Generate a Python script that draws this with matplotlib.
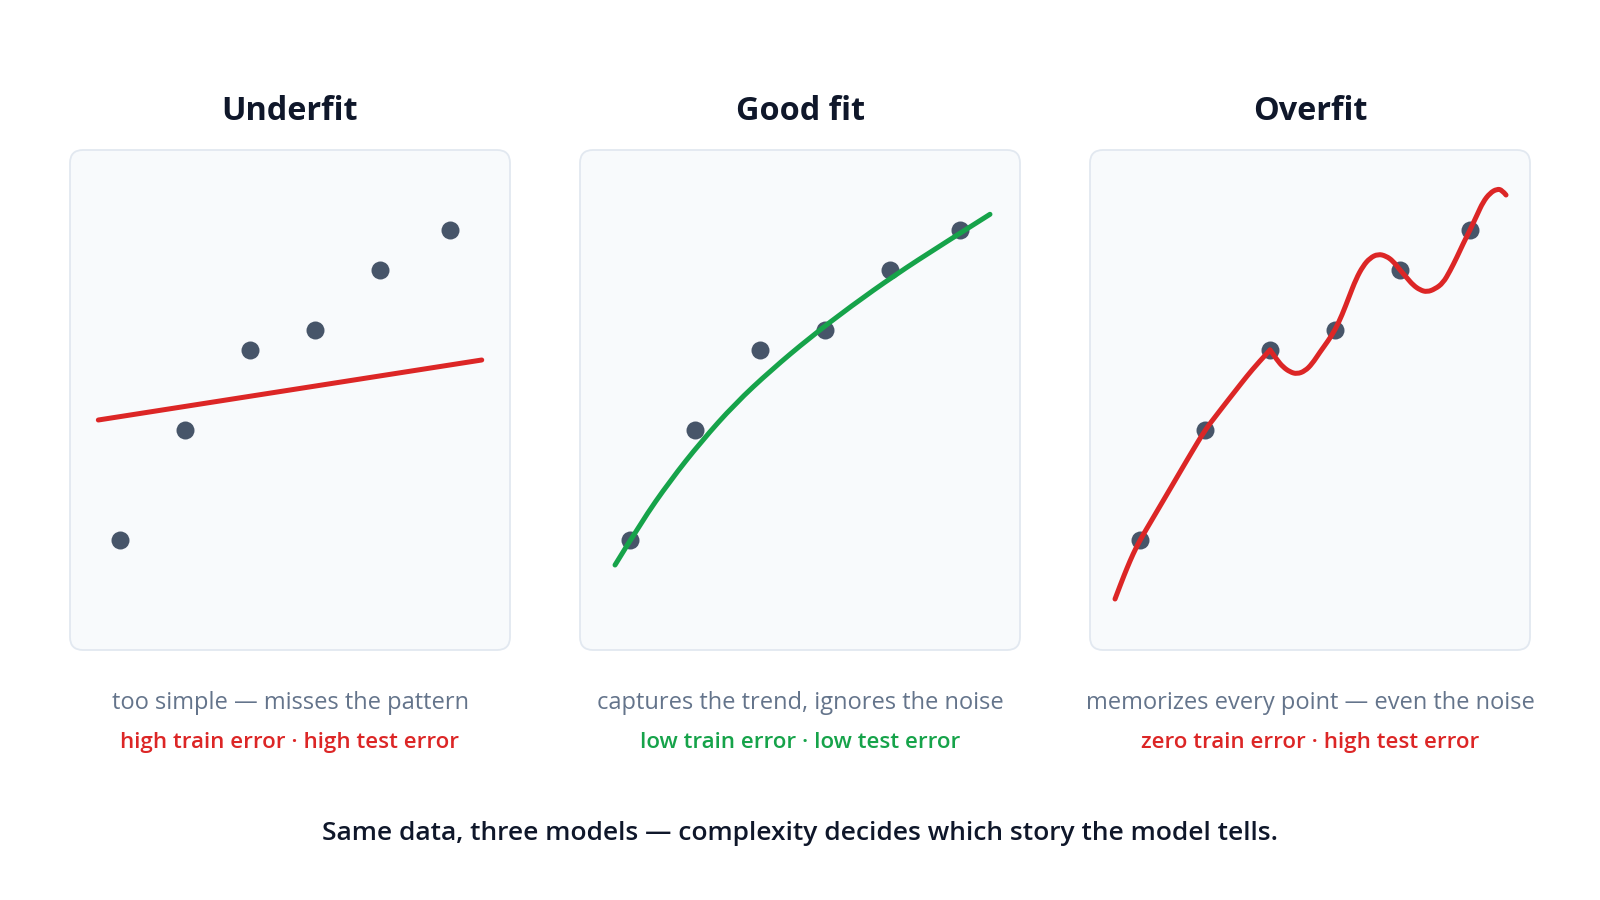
import matplotlib
matplotlib.use("Agg")
import matplotlib.pyplot as plt
from matplotlib.patches import FancyBboxPatch, PathPatch
from matplotlib.path import Path

# ---------------- data ----------------
panel_titles = ["Underfit", "Good fit", "Overfit"]
panel_desc = ["too simple \u2014 misses the pattern",
              "captures the trend, ignores the noise",
              "memorizes every point \u2014 even the noise"]
panel_verdict = ["high train error \u00b7 high test error",
                 "low train error \u00b7 low test error",
                 "zero train error \u00b7 high test error"]
footer = "Same data, three models \u2014 complexity decides which story the model tells."

point_x = [1.0, 2.0, 3.0, 4.0, 5.0, 6.08]
point_y = [2.2, 4.4, 6.0, 6.4, 7.6, 8.4]

underfit_x = [0.666, 6.565]
underfit_y = [4.6, 5.8]

goodfit_x = [0.769, 1.173, 1.615, 2.096, 2.615, 3.173, 3.769, 4.404, 5.077, 5.788, 6.538]
goodfit_y = [1.700, 2.559, 3.382, 4.171, 4.925, 5.600, 6.250, 6.880, 7.500, 8.100, 8.714]

# overfit curve, part A (start up to the kink at the 3rd point)
overfitA_x = [0.615, 0.708, 0.800, 0.892, 1.000, 1.154, 1.308, 1.462, 1.615,
              1.769, 2.000, 2.154, 2.308, 2.477, 2.646, 2.815, 3.000]
overfitA_y = [1.02, 1.34, 1.64, 1.92, 2.20, 2.54, 2.88, 3.22, 3.56,
              3.90, 4.40, 4.66, 4.92, 5.20, 5.48, 5.74, 6.00]
# overfit curve, part B (from the kink to the end)
overfitB_x = [3.000, 3.108, 3.200, 3.308, 3.415, 3.538, 3.646, 3.769, 3.892,
              4.000, 4.108, 4.215, 4.323, 4.431, 4.538, 4.662, 4.785, 4.892,
              5.000, 5.108, 5.200, 5.308, 5.415, 5.538, 5.662, 5.769, 5.877,
              5.969, 6.077, 6.185, 6.277, 6.385, 6.492, 6.569, 6.631]
overfitB_y = [6.00, 5.80, 5.66, 5.56, 5.52, 5.58, 5.72, 5.96, 6.18,
              6.40, 6.70, 7.06, 7.42, 7.68, 7.84, 7.92, 7.88, 7.78,
              7.60, 7.44, 7.30, 7.20, 7.16, 7.22, 7.34, 7.58, 7.86,
              8.12, 8.40, 8.70, 8.96, 9.14, 9.22, 9.20, 9.10]

# ---------------- style ----------------
C_TITLE = "#0f172a"
C_DESC = "#64748b"
C_RED = "#dc2626"
C_GREEN = "#16a34a"
C_DOT = "#475569"
C_PANEL = "#f8fafc"
C_BORDER = "#e2e8f0"
FONT = ["Open Sans", "DejaVu Sans"]
plt.rcParams["font.family"] = FONT

W, H = 1600, 900
fig = plt.figure(figsize=(16, 9), dpi=100, facecolor="white")

bg = fig.add_axes([0, 0, 1, 1], zorder=0)
bg.set_xlim(0, W)
bg.set_ylim(H, 0)
bg.axis("off")

panel_left = [70, 580, 1090]
panel_top, panel_w, panel_h = 150, 440, 500
LW = 3.6


def smooth(ax, xs, ys, color):
    verts = [(xs[0], ys[0])]
    codes = [Path.MOVETO]
    n = len(xs)
    if n == 2:
        verts.append((xs[1], ys[1]))
        codes.append(Path.LINETO)
    else:
        for i in range(1, n - 1):
            end = ((xs[i] + xs[i + 1]) / 2, (ys[i] + ys[i + 1]) / 2) if i < n - 2 else (xs[-1], ys[-1])
            verts += [(xs[i], ys[i]), end]
            codes += [Path.CURVE3, Path.CURVE3]
    ax.add_patch(PathPatch(Path(verts, codes), fill=False, edgecolor=color, lw=LW,
                           capstyle="round", joinstyle="round", zorder=3))


for k, left in enumerate(panel_left):
    cx = left + panel_w / 2
    bg.add_patch(FancyBboxPatch((left, panel_top), panel_w, panel_h,
                                boxstyle="round,pad=0,rounding_size=13",
                                facecolor=C_PANEL, edgecolor=C_BORDER, lw=1.3))
    bg.text(cx, 120.5, panel_titles[k], ha="center", va="baseline", fontsize=23.3,
            fontweight="bold", color=C_TITLE)
    bg.text(cx, 709, panel_desc[k], ha="center", va="baseline", fontsize=17,
            color=C_DESC)
    bg.text(cx, 748, panel_verdict[k], ha="center", va="baseline", fontsize=16.1,
            fontweight="semibold", color=C_RED if k != 1 else C_GREEN)

    ax = fig.add_axes([left / W, (H - panel_top - panel_h) / H, panel_w / W, panel_h / H],
                      zorder=1)
    ax.patch.set_alpha(0)
    ax.set_xlim(0.23, 7.0)
    ax.set_ylim(0, 10)
    ax.axis("off")
    ax.scatter(point_x, point_y, s=168, color=C_DOT, zorder=2, linewidths=0)
    if k == 0:
        smooth(ax, underfit_x, underfit_y, C_RED)
    elif k == 1:
        smooth(ax, goodfit_x, goodfit_y, C_GREEN)
    else:
        smooth(ax, overfitA_x, overfitA_y, C_RED)
        smooth(ax, overfitB_x, overfitB_y, C_RED)

bg.text(W / 2, 840, footer, ha="center", va="baseline", fontsize=19,
        fontweight="semibold", color=C_TITLE)

fig.savefig("out.png", dpi=100, facecolor="white")
